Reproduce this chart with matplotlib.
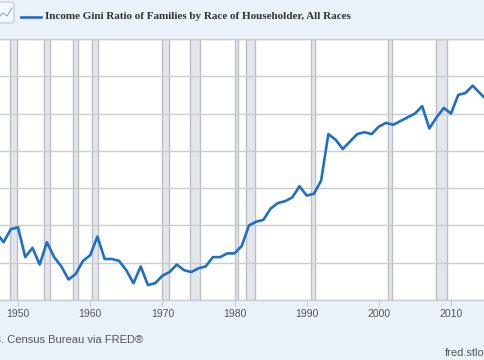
import numpy as np
import matplotlib.pyplot as plt
from matplotlib.lines import Line2D
from matplotlib.patches import FancyBboxPatch

# Income Gini ratio of families, all races (annual)
years = list(range(1947, 2016))
gini = [0.376, 0.371, 0.378, 0.379, 0.363, 0.368, 0.359, 0.371, 0.363, 0.358,
        0.351, 0.354, 0.361, 0.364, 0.374, 0.362, 0.362, 0.361, 0.356, 0.349,
        0.358, 0.348, 0.349, 0.353, 0.355, 0.359, 0.356, 0.355, 0.357, 0.358,
        0.363, 0.363, 0.365, 0.365, 0.369, 0.380, 0.382, 0.383, 0.389, 0.392,
        0.393, 0.395, 0.401, 0.396, 0.397, 0.404, 0.429, 0.426, 0.421, 0.425,
        0.429, 0.430, 0.429, 0.433, 0.435, 0.434, 0.436, 0.438, 0.440, 0.444,
        0.432, 0.438, 0.443, 0.440, 0.450, 0.451, 0.455, 0.451, 0.447]

# NBER recessions (start, end) as fractional years
rec_start = [1948.83, 1953.54, 1957.63, 1960.29, 1969.96, 1973.88, 1980.04,
             1981.54, 1990.54, 2001.21, 2007.96]
rec_end = [1949.79, 1954.38, 1958.29, 1961.13, 1970.88, 1975.21, 1980.54,
           1982.88, 1991.21, 2001.88, 2009.46]

xticks = [1950, 1960, 1970, 1980, 1990, 2000, 2010]
title = "Income Gini Ratio of Families by Race of Householder, All Races"

W, H = 485, 360
blue = '#1f6fc6'
bg = '#eaf1f9'


def px(x, y):
    return x / W, 1 - y / H


fig = plt.figure(figsize=(W / 100, H / 100), dpi=100)
fig.patch.set_facecolor(bg)

ax = fig.add_axes([0, 60 / H, 1, 261 / H])
ax.set_facecolor('white')

for s, e in zip(rec_start, rec_end):
    ax.axvspan(s, e, facecolor='#e3e6ea', edgecolor='#bcc0c6', linewidth=1)

ax.plot(years, gini, color=blue, lw=1.9, zorder=3)

ax.set_xlim(1947.5, 2014.71)
ax.set_ylim(0.34, 0.48)
ax.set_yticks(np.arange(0.34, 0.4801, 0.02))
ax.yaxis.grid(True, color='#cccccc', lw=1)
ax.tick_params(axis='y', length=0, labelleft=False)

ax.set_xticks(xticks)
ax.set_xticklabels([str(t) for t in xticks], fontfamily='Liberation Sans',
                   fontsize=7.5, color='#555555')
ax.tick_params(axis='x', length=4, color='#cccccc', pad=2.5)

for side in ['left', 'right']:
    ax.spines[side].set_visible(False)
for side in ['top', 'bottom']:
    ax.spines[side].set_color('#cccccc')
    ax.spines[side].set_linewidth(1)

# header: chart icon, legend swatch, title
icon = FancyBboxPatch(px(-6, 23), 20 / W, 21 / H, boxstyle='round,pad=0,rounding_size=0.006',
                      transform=fig.transFigure, facecolor='#f5f8fc',
                      edgecolor='#b9c9da', lw=0.8)
fig.add_artist(icon)
ix, iy = zip(*[px(-2, 18), px(3, 13), px(7, 16), px(12, 8)])
fig.add_artist(Line2D(ix, iy, color='#8db3d9', lw=0.9, transform=fig.transFigure))

lx, ly = zip(px(20.7, 16.7), px(40.7, 16.7))
fig.add_artist(Line2D(lx, ly, color=blue, lw=1.9, transform=fig.transFigure))
fig.text(*px(45, 16.5), title, fontfamily='Liberation Serif', fontweight='bold',
         fontsize=8, color='#333333', va='center', ha='left')

# footer
fig.text(*px(143.5, 340), "Source: U.S. Census Bureau via FRED\u00ae",
         fontfamily='Liberation Sans', fontsize=8, color='#555555',
         ha='right', va='center')
fig.text(*px(445, 353), "fred.stlouisfed.org", fontfamily='Liberation Sans',
         fontsize=8, color='#555555', ha='left', va='center')

fig.savefig('out.png', dpi=100, facecolor=bg)
